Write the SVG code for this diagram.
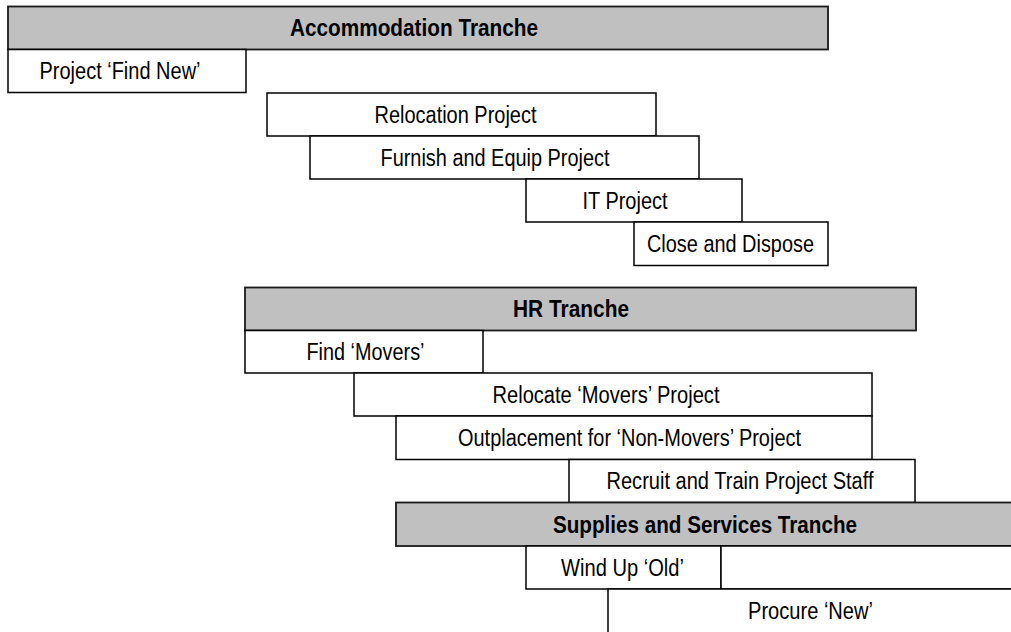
<svg xmlns="http://www.w3.org/2000/svg" width="1011" height="632" viewBox="0 0 1011 632">
<style>
.box{fill:#ffffff;stroke:#000000;stroke-width:1.5}
.tr{fill:#c0c0c0;stroke:#1a1a1a;stroke-width:1.8}
.t{font-family:"Liberation Sans",Arial,sans-serif;font-size:23px;fill:#000;text-anchor:middle}
.b{font-weight:bold}
</style>
<rect width="1011" height="632" fill="#ffffff"/>
<g id="connectors"/>
<g id="accommodation-tranche"><rect class="tr" x="8" y="6.5" width="820" height="43"/><text class="t b" x="414" y="36" textLength="248" lengthAdjust="spacingAndGlyphs">Accommodation Tranche</text></g>
<g id="find-new"><rect class="box" x="8" y="49.5" width="238" height="43"/><text class="t" x="120" y="79" textLength="161" lengthAdjust="spacingAndGlyphs">Project ‘Find New’</text></g>
<g id="relocation"><rect class="box" x="267" y="93" width="389" height="43"/><text class="t" x="455.5" y="122.5" textLength="162" lengthAdjust="spacingAndGlyphs">Relocation Project</text></g>
<g id="furnish"><rect class="box" x="310" y="136" width="389" height="43"/><text class="t" x="495" y="165.5" textLength="229" lengthAdjust="spacingAndGlyphs">Furnish and Equip Project</text></g>
<g id="it"><rect class="box" x="526" y="179" width="216" height="43"/><text class="t" x="625" y="208.5" textLength="85" lengthAdjust="spacingAndGlyphs">IT Project</text></g>
<g id="close"><rect class="box" x="634" y="222" width="194" height="43.5"/><text class="t" x="730.5" y="252" textLength="167" lengthAdjust="spacingAndGlyphs">Close and Dispose</text></g>
<g id="hr-tranche"><rect class="tr" x="245" y="287.5" width="671" height="43"/><text class="t b" x="571" y="317" textLength="116" lengthAdjust="spacingAndGlyphs">HR Tranche</text></g>
<g id="find-movers"><rect class="box" x="245" y="330.5" width="238" height="42.5"/><text class="t" x="365.5" y="360" textLength="118" lengthAdjust="spacingAndGlyphs">Find ‘Movers’</text></g>
<g id="relocate-movers"><rect class="box" x="354" y="373" width="518" height="43"/><text class="t" x="606" y="402.5" textLength="227" lengthAdjust="spacingAndGlyphs">Relocate ‘Movers’ Project</text></g>
<g id="outplacement"><rect class="box" x="396" y="416" width="476" height="43.5"/><text class="t" x="629.5" y="446" textLength="343" lengthAdjust="spacingAndGlyphs">Outplacement for ‘Non-Movers’ Project</text></g>
<g id="recruit"><rect class="box" x="569" y="459.5" width="346" height="43"/><text class="t" x="740" y="489" textLength="267" lengthAdjust="spacingAndGlyphs">Recruit and Train Project Staff</text></g>
<g id="supplies-tranche"><rect class="tr" x="396" y="502.5" width="625" height="43.5"/><text class="t b" x="705" y="532.5" textLength="304" lengthAdjust="spacingAndGlyphs">Supplies and Services Tranche</text></g>
<g id="wind-up"><rect class="box" x="526" y="546" width="195" height="43"/><text class="t" x="622.5" y="575.5" textLength="123" lengthAdjust="spacingAndGlyphs">Wind Up ‘Old’</text></g>
<g id="blank"><rect class="box" x="721" y="546" width="300" height="43"/></g>
<g id="procure"><rect class="box" x="608" y="589" width="410" height="50"/><text class="t" x="810.5" y="618.5" textLength="125" lengthAdjust="spacingAndGlyphs">Procure ‘New’</text></g>
</svg>
